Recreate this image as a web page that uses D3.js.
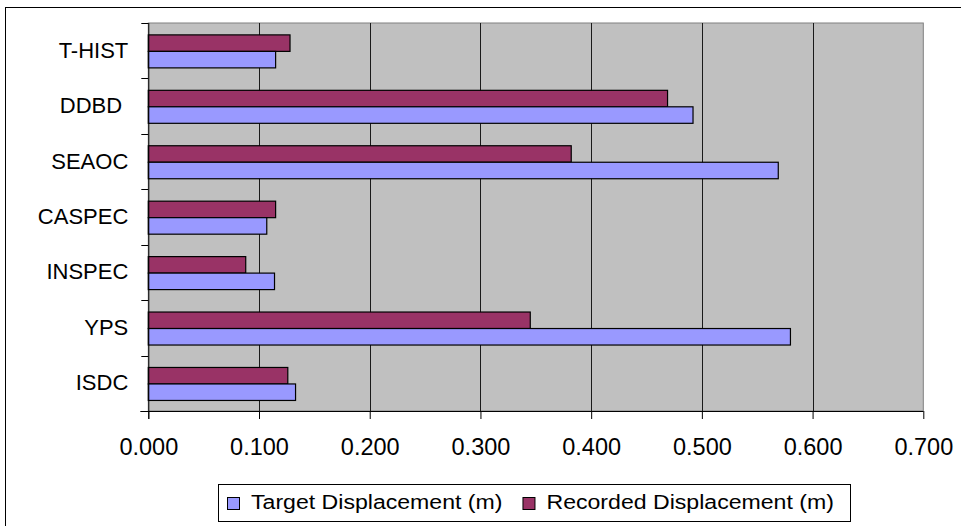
<!DOCTYPE html>
<html>
<head>
<meta charset="utf-8">
<script src="https://cdn.jsdelivr.net/npm/d3@7"></script>
<style>
  html, body { margin: 0; padding: 0; background: #fff; }
  svg { display: block; font-family: "Liberation Sans", Arial, sans-serif; }
</style>
</head>
<body>
<svg id="chart" width="961" height="526"></svg>
<script>
// Displacement comparison by design method (m)
const categories = ["T-HIST", "DDBD ", "SEAOC", "CASPEC", "INSPEC", "YPS", "ISDC"];
const recorded = [0.128, 0.469, 0.382, 0.115, 0.088, 0.345, 0.126];
const target   = [0.115, 0.492, 0.569, 0.107, 0.114, 0.580, 0.133];
const xTicks = [0, 0.1, 0.2, 0.3, 0.4, 0.5, 0.6, 0.7];
const seriesNames = ["Target Displacement (m)", "Recorded Displacement (m)"];
const seriesKeys = ["recorded", "target"];
const colors = { target: "#9999FF", recorded: "#993366" };

const rows = categories.map((c, i) => ({ cat: c, recorded: recorded[i], target: target[i] }));

const svg = d3.select("#chart");

// outer chart frame
svg.append("rect")
  .attr("x", 5.5).attr("y", 7.5)
  .attr("width", 970).attr("height", 530)
  .attr("fill", "#fff").attr("stroke", "#000").attr("stroke-width", 1);

const plot = { left: 148.3, right: 923.3, top: 23, bottom: 411 };

const x = d3.scaleLinear().domain([0, 0.7]).range([plot.left, plot.right]);
const y = d3.scaleBand().domain(categories).range([plot.top, plot.bottom]);
const yInner = d3.scaleBand().domain(seriesKeys).range([0, y.bandwidth()])
  .paddingInner(0).paddingOuter(0.68).align(0.53);

// plot background
svg.append("rect")
  .attr("x", plot.left).attr("y", plot.top)
  .attr("width", plot.right - plot.left).attr("height", plot.bottom - plot.top)
  .attr("fill", "#C0C0C0").attr("stroke", "#808080").attr("stroke-width", 1);

// vertical gridlines
svg.append("g").selectAll("line")
  .data(xTicks.filter(t => t > 0 && t < 0.7))
  .join("line")
  .attr("x1", d => Math.round(x(d)) + 0.5).attr("x2", d => Math.round(x(d)) + 0.5)
  .attr("y1", plot.top).attr("y2", plot.bottom)
  .attr("stroke", "#1a1a1a").attr("stroke-width", 1);

// bars
const groups = svg.append("g").selectAll("g")
  .data(rows)
  .join("g")
  .attr("transform", d => `translate(0,${y(d.cat)})`);

groups.selectAll("rect")
  .data(d => seriesKeys.map(k => ({ key: k, value: d[k] })))
  .join("rect")
  .attr("x", x(0))
  .attr("y", d => yInner(d.key))
  .attr("width", d => x(d.value) - x(0))
  .attr("height", yInner.bandwidth())
  .attr("fill", d => colors[d.key])
  .attr("stroke", "#000").attr("stroke-width", 1.2);

// bottom axis
const xAxis = d3.axisBottom(x)
  .tickValues(xTicks)
  .tickFormat(d3.format(".3f"))
  .tickSize(8)
  .tickPadding(19.3);
const gx = svg.append("g")
  .attr("transform", `translate(0,${plot.bottom})`)
  .call(xAxis);
gx.select(".domain").remove();
gx.selectAll("line").attr("stroke", "#000");
gx.selectAll("text")
  .attr("font-size", 23.5).attr("font-family", "Liberation Sans, Arial, sans-serif")
  .attr("fill", "#000");
svg.append("line")
  .attr("x1", plot.left - 8).attr("x2", plot.right)
  .attr("y1", plot.bottom + 0.5).attr("y2", plot.bottom + 0.5)
  .attr("stroke", "#000");

// left axis: labels at band centres, ticks at band boundaries
const yAxis = d3.axisLeft(y).tickSize(0).tickPadding(20);
const gy = svg.append("g")
  .attr("transform", `translate(${plot.left},0)`)
  .call(yAxis);
gy.select(".domain").remove();
gy.selectAll("text")
  .attr("font-size", 22).attr("font-family", "Liberation Sans, Arial, sans-serif")
  .attr("fill", "#000")
  .style("white-space", "pre");

const boundaries = categories.map(c => y(c)).concat([plot.bottom]);
svg.append("g").selectAll("line")
  .data(boundaries)
  .join("line")
  .attr("x1", plot.left - 7).attr("x2", plot.left)
  .attr("y1", d => Math.round(d) + 0.5).attr("y2", d => Math.round(d) + 0.5)
  .attr("stroke", "#000");
svg.append("line")
  .attr("x1", plot.left + 0.5).attr("x2", plot.left + 0.5)
  .attr("y1", plot.top).attr("y2", plot.bottom + 8)
  .attr("stroke", "#000");

// legend
const legend = svg.append("g");
legend.append("rect")
  .attr("x", 218.5).attr("y", 484.5)
  .attr("width", 632).attr("height", 37)
  .attr("fill", "#fff").attr("stroke", "#000");

const legendItems = [
  { name: seriesNames[0], color: colors.target },
  { name: seriesNames[1], color: colors.recorded }
];
const stretch = 1.1;
let cursor = 227;
legendItems.forEach(item => {
  legend.append("rect")
    .attr("x", cursor + 0.5).attr("y", 497.5)
    .attr("width", 12).attr("height", 12)
    .attr("fill", item.color).attr("stroke", "#000");
  const tx = cursor + 24;
  const t = legend.append("text")
    .attr("transform", `translate(${tx},509) scale(${stretch},1)`)
    .attr("font-size", 21)
    .attr("fill", "#000")
    .text(item.name);
  const w = t.node().getComputedTextLength() * stretch;
  cursor = tx + w + 20;
});
</script>
</body>
</html>
